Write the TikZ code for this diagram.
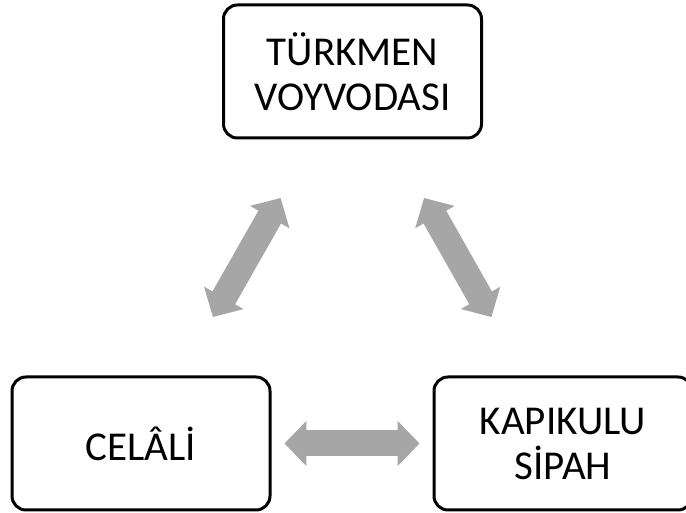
\documentclass[tikz,border=0pt]{standalone}
\usepackage{fontspec}
\setmainfont{Carlito}
\usetikzlibrary{arrows.meta,calc}
\definecolor{linkgrey}{HTML}{A6A6A6}
\tikzset{
  party/.style={draw=black, line width=3pt, rounded corners=14pt,
                minimum width=258pt, minimum height=133pt, inner sep=0pt,
                align=center, font=\fontsize{41}{45}\selectfont},
  link/.style={draw=linkgrey, line width=26pt,
               {Triangle[length=22pt,width=44pt]}-{Triangle[length=22pt,width=44pt]}}
}
\newcommand{\relation}[2]{
  % Fat grey arrow between two parties
  \draw [link] ($(#1.center)!0.34!(#2.center)$) -- ($(#1.center)!0.66!(#2.center)$);
}
\begin{document}
\begin{tikzpicture}[x=1pt,y=1pt]
    \useasboundingbox (0,0) rectangle (686,513);

    % The three parties
    \node [party] (turkmen) at (352.5,441.5) {TÜRKMEN\\VOYVODASI};
    \node [party] (celali) at (141,69.5) {CELÂLİ};
    \node [party] (kapikulu) at (563,69.5) {KAPIKULU\\SİPAH};

    % Arrows between them
    \relation{celali}{turkmen}
    \relation{kapikulu}{turkmen}
    \relation{celali}{kapikulu}
\end{tikzpicture}
\end{document}
